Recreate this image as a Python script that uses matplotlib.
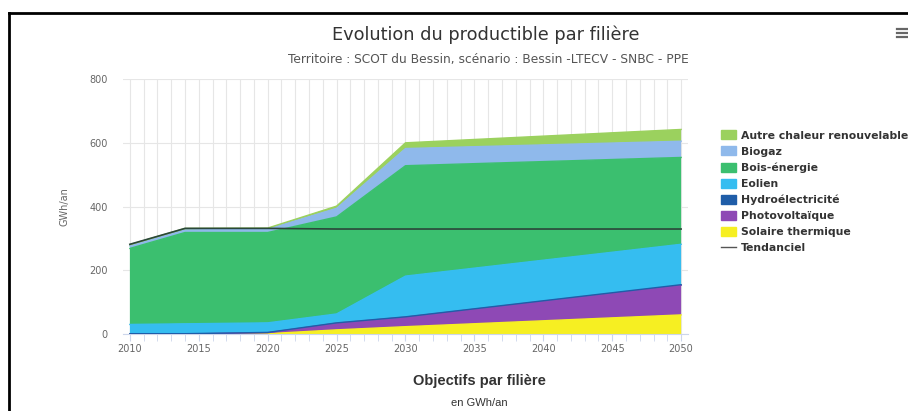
import matplotlib
matplotlib.use("Agg")
import matplotlib.pyplot as plt
from matplotlib.lines import Line2D
from matplotlib.patches import Patch
import numpy as np

### Data (GWh/an)
years = [2010, 2014, 2020, 2025, 2030, 2050]
solaire = [0, 0, 1, 13, 23, 60]
photovoltaique = [0, 0, 3, 21, 30, 93]
hydro = [1, 1, 1, 1, 1, 2]
eolien = [29, 31, 30, 28, 128, 127]
bois = [239, 287, 284, 305, 347, 273]
biogaz = [8, 8, 11, 27, 54, 51]
autre = [4, 5, 3, 7, 18, 37]
tendanciel = [282, 332, 332, 330, 330, 330]

names = ['Solaire thermique', 'Photovoltaïque', 'Hydroélectricité', 'Eolien',
         'Bois-énergie', 'Biogaz', 'Autre chaleur renouvelable']
colors = ['#f6ef22', '#8e49b5', '#1f5da8', '#35bdf0', '#3bbf6f', '#8fb9eb', '#9bd15e']

fig = plt.figure(figsize=(9.08, 4.11), dpi=100)
ax = fig.add_axes([123 / 908, 1 - 334 / 411, 565 / 908, 254.5 / 411])

series = [solaire, photovoltaique, hydro, eolien, bois, biogaz, autre]
ax.stackplot(years, *series, colors=colors, lw=0, zorder=2)
cum = np.cumsum(np.array(series), axis=0)
for c, col in zip(cum, colors):
    ax.plot(years, c, color=col, lw=1, zorder=3)
ax.plot(years, tendanciel, color='#2b463a', lw=1.2, zorder=4)

ax.set_xlim(2009.5, 2050.5)
ax.set_ylim(0, 800)
ax.set_yticks(range(0, 801, 200))
ax.set_xticks(range(2010, 2051, 5))
ax.set_xticks(range(2010, 2051), minor=True)
ax.grid(True, which='both', color='#e6e6e6', lw=0.8, zorder=0)
ax.set_axisbelow(True)
for s in ['top', 'right', 'left']:
    ax.spines[s].set_visible(False)
ax.spines['bottom'].set_color('#ccd6eb')
ax.tick_params(axis='x', which='both', length=5, color='#ccd6eb', labelsize=7,
               labelcolor='#666666', pad=2)
ax.tick_params(axis='y', length=0, labelsize=7, labelcolor='#666666', pad=11)
ax.set_ylabel('GWh/an', fontsize=7, color='#666666')
ax.yaxis.set_label_coords(-0.094, 0.5)

fig.text(486 / 908, 1 - 35 / 411, 'Evolution du productible par filière', ha='center',
         va='center', fontsize=12.8, color='#333333', family='DejaVu Sans')
fig.text(488 / 908, 1 - 60 / 411,
         'Territoire : SCOT du Bessin, scénario : Bessin -LTECV - SNBC - PPE',
         ha='center', va='center', fontsize=8.8, color='#555555', family='DejaVu Sans')
fig.text(479 / 908, 1 - 381 / 411, 'Objectifs par filière', ha='center', va='center',
         fontsize=10.5, fontweight='bold', color='#333333', family='Liberation Sans')
fig.text(479 / 908, 1 - 403 / 411, 'en GWh/an', ha='center', va='center',
         fontsize=8, color='#333333', family='Liberation Sans')

# context menu icon (cut by the screenshot edge)
for yy in (29, 33, 37):
    fig.add_artist(Line2D([897 / 908, 1], [1 - yy / 411, 1 - yy / 411], color='#666666',
                          lw=1.6, transform=fig.transFigure))

handles = [Patch(color=c, label=n) for n, c in zip(names, colors)][::-1]
handles.append(Line2D([0], [0], color='#555555', lw=1, label='Tendanciel'))
leg = fig.legend(handles=handles, loc='upper left', bbox_to_anchor=(716 / 908, 1 - 125 / 411),
                 frameon=False, prop={'size': 7.8, 'weight': 'bold'}, handlelength=1.3,
                 handleheight=0.9, handletextpad=0.5, labelspacing=0.53, borderpad=0)
for t in leg.get_texts():
    t.set_color('#333333')

# black screenshot frame
fig.add_artist(Line2D([9 / 908, 1], [1 - 13 / 411, 1 - 13 / 411], color='black', lw=2,
                      transform=fig.transFigure))
fig.add_artist(Line2D([9 / 908, 9 / 908], [0, 1 - 13 / 411], color='black', lw=2,
                      transform=fig.transFigure))

fig.savefig('out.png', dpi=100)
